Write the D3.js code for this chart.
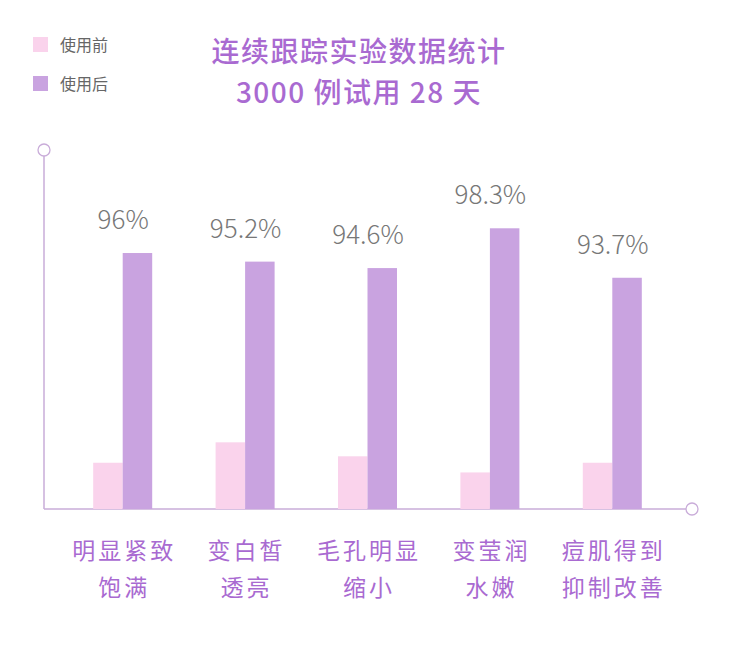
<!DOCTYPE html>
<html>
<head>
<meta charset="utf-8">
<script src="https://cdn.jsdelivr.net/npm/d3@7"></script>
<style>
  body { margin: 0; background: #fff; }
  text { font-family: "Noto Sans CJK SC", "Noto Sans", sans-serif; }
</style>
</head>
<body>
<script>
const categories = [['明显紧致', '饱满'], ['变白皙', '透亮'], ['毛孔明显', '缩小'], ['变莹润', '水嫩'], ['痘肌得到', '抑制改善']]
const seriesNames = ['使用前', '使用后']
const before = [76.5, 78.4, 77.1, 75.6, 76.5]
const after = [96, 95.2, 94.6, 98.3, 93.7]
const titleLines = ['连续跟踪实验数据统计', '3000 例试用 28 天']

const width = 730
const height = 650
const colors = ['#fad3ec', '#c9a3e0']

const svg = d3.select('body')
  .append('svg')
  .attr('width', width)
  .attr('height', height)

const x = d3.scaleBand()
  .domain(d3.range(categories.length))
  .range([62, 674])

const x1 = d3.scaleBand()
  .domain([0, 1])
  .range([0, 59])

const y = d3.scaleLinear()
  .domain([72.2, 100])
  .range([509, 210])

// axes
svg.append('line')
  .attr('x1', 44).attr('x2', 44)
  .attr('y1', 156).attr('y2', 509)
  .attr('stroke', '#c9acd9').attr('stroke-width', 1.5)
svg.append('line')
  .attr('x1', 44).attr('x2', 686)
  .attr('y1', 509).attr('y2', 509)
  .attr('stroke', '#c9acd9').attr('stroke-width', 1.5)
svg.append('circle')
  .attr('cx', 44).attr('cy', 150).attr('r', 6)
  .attr('fill', '#fff').attr('stroke', '#c9acd9').attr('stroke-width', 1.3)
svg.append('circle')
  .attr('cx', 692).attr('cy', 509).attr('r', 6)
  .attr('fill', '#fff').attr('stroke', '#c9acd9').attr('stroke-width', 1.3)

const groups = svg.selectAll('g.grp')
  .data(categories)
  .enter()
  .append('g')
  .attr('class', 'grp')
  .attr('transform', (d, i) => `translate(${x(i) + x.bandwidth() / 2 - 30},0)`)

groups.append('rect')
  .attr('x', x1(0))
  .attr('width', x1.bandwidth())
  .attr('y', (d, i) => y(before[i]))
  .attr('height', (d, i) => 509 - y(before[i]))
  .attr('fill', colors[0])

groups.append('rect')
  .attr('x', x1(1))
  .attr('width', x1.bandwidth())
  .attr('y', (d, i) => y(after[i]))
  .attr('height', (d, i) => 509 - y(after[i]))
  .attr('fill', colors[1])

groups.append('text')
  .attr('x', 30)
  .attr('y', (d, i) => y(after[i]) - 24)
  .attr('text-anchor', 'middle')
  .attr('font-size', 26)
  .attr('font-weight', 300)
  .attr('fill', '#777')
  .text((d, i) => after[i] + '%')

groups.each(function (d) {
  const g = d3.select(this)
  d.forEach((line, j) => {
    g.append('text')
      .attr('x', 31)
      .attr('y', 559 + j * 37)
      .attr('text-anchor', 'middle')
      .attr('font-size', 23)
      .attr('letter-spacing', 3)
      .attr('fill', '#a96ad1')
      .text(line)
  })
})

// title
titleLines.forEach((t, i) => {
  svg.append('text')
    .attr('x', 359)
    .attr('y', 62 + i * 41)
    .attr('text-anchor', 'middle')
    .attr('font-size', 28)
    .attr('font-weight', 500)
    .attr('letter-spacing', 1.5)
    .attr('fill', '#a96ad1')
    .text(t)
})

// legend
seriesNames.forEach((s, i) => {
  svg.append('rect')
    .attr('x', 33).attr('y', 37 + i * 39)
    .attr('width', 15).attr('height', 15)
    .attr('fill', colors[i])
  svg.append('text')
    .attr('x', 60).attr('y', 51 + i * 39)
    .attr('font-size', 16)
    .attr('fill', '#666')
    .text(s)
})
</script>
</body>
</html>
